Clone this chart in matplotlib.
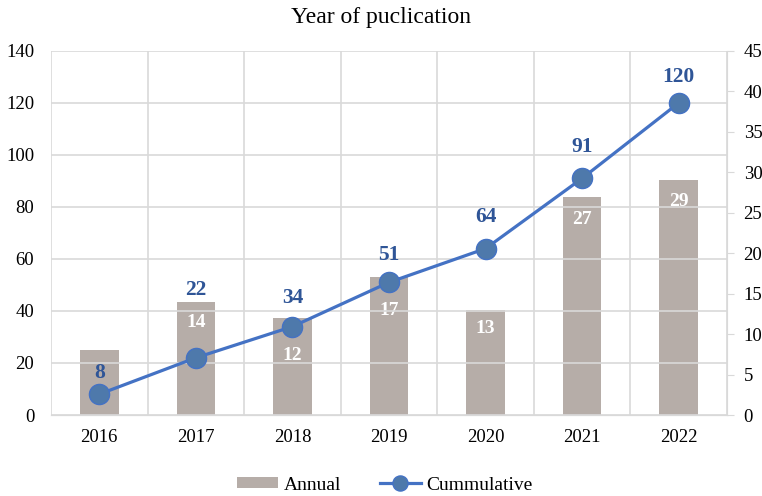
import matplotlib.pyplot as plt
import numpy as np

years = ['2016', '2017', '2018', '2019', '2020', '2021', '2022']
annual = [8, 14, 12, 17, 13, 27, 29]
cumulative = [8, 22, 34, 51, 64, 91, 120]

plt.rcParams['font.family'] = ['Liberation Serif', 'DejaVu Serif']

fig = plt.figure(figsize=(7.62, 4.96), dpi=100)
ax = fig.add_axes([0.0669, 0.1633, 0.8871, 0.734])
ax2 = ax.twinx()

x = np.arange(len(years))
grid_c = '#d9d9d9'
bar_c = '#b6ada8'
line_c = '#4472c4'
mark_c = '#4e79ab'
lab_c = '#2f5597'

# bars on the right axis, line on the left axis
ax2.bar(x, annual, width=0.4, color=bar_c, zorder=1, label='Annual')
ax2.set_ylim(0, 45)
ax2.set_yticks(np.arange(0, 46, 5))

ax.set_ylim(0, 140)
ax.set_yticks(np.arange(0, 141, 20))
ax.set_xlim(-0.5, len(years) - 0.5)
ax.set_xticks(x)
ax.set_xticklabels(years)
ax.set_xticks(np.arange(-0.5, len(years), 1), minor=True)
ax.grid(True, which='major', axis='y', color=grid_c, lw=1.2)
ax.grid(True, which='minor', axis='x', color=grid_c, lw=1.2)
ax.tick_params(axis='x', which='both', length=0, labelsize=13.5, pad=10)
ax.tick_params(axis='y', length=0, labelsize=13.5, pad=12)
ax2.tick_params(axis='y', length=5, color=grid_c, labelsize=13.5, pad=7)

# put the line axis above the bar axis
ax.set_zorder(ax2.get_zorder() + 1)
ax.patch.set_visible(False)
ax2.patch.set_visible(True)
ax2.patch.set_facecolor('white')
ax2.set_axisbelow(True)

ax.plot(x, cumulative, color=line_c, lw=2.3, marker='o', ms=14.5,
        markerfacecolor=mark_c, markeredgecolor=line_c, zorder=3, label='Cummulative')

for a in (ax, ax2):
    a.spines['top'].set_visible(False)
    a.spines['left'].set_visible(False)
    a.spines['bottom'].set_color(grid_c)
ax.spines['right'].set_visible(False)
ax2.spines['right'].set_color(grid_c)

# bar labels (white, inside), offsets in pixels below bar top
bar_off = [None, 21, 38, 33, 19, 23, 21]
for i, (v, off) in enumerate(zip(annual, bar_off)):
    if off is None:
        continue
    ax2.annotate(str(v), (x[i], v), xytext=(0, -off * 0.72), textcoords='offset points',
                 ha='center', va='center', color='white', fontsize=14, fontweight='bold', zorder=4)

# cumulative labels (blue, above markers), offsets in pixels
line_off = [21, 68, 29, 27, 32, 31, 26]
for i, (v, off) in enumerate(zip(cumulative, line_off)):
    ax.annotate(str(v), (x[i], v), xytext=(0, off * 0.72), textcoords='offset points',
                ha='center', va='center', color=lab_c, fontsize=15.5, fontweight='bold')

fig.suptitle('Year of puclication', y=0.985, fontsize=17)

h1, l1 = ax2.get_legend_handles_labels()
h2, l2 = ax.get_legend_handles_labels()
fig.legend(h1 + h2, l1 + l2, loc='center', ncol=2, frameon=False,
           fontsize=14, bbox_to_anchor=(0.505, 0.022), borderpad=0.1, handlelength=2.1,
           handleheight=0.5, columnspacing=2.0, handletextpad=0.3, markerscale=0.75)

fig.savefig('out.png', dpi=100)
